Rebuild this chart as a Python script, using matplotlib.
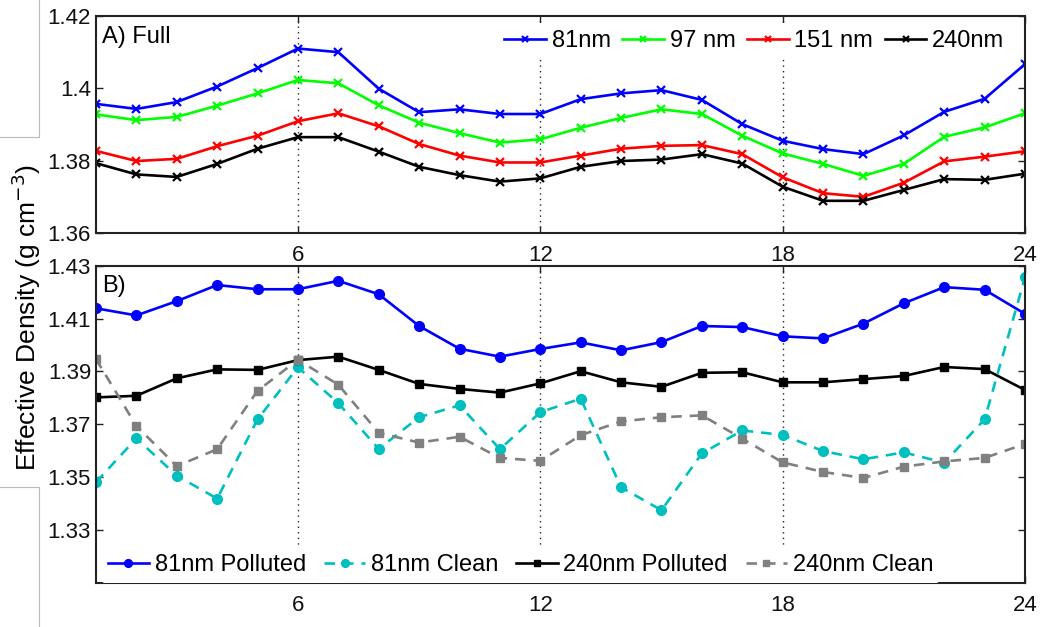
import matplotlib
matplotlib.use("Agg")
import matplotlib.pyplot as plt
from matplotlib.lines import Line2D

plt.rcParams['font.family'] = ['Liberation Sans', 'DejaVu Sans']

hours = list(range(1, 25))

# Panel A: full
full_81 = [1.3957, 1.3943, 1.3962, 1.4005, 1.4056, 1.4110, 1.4100, 1.3999, 1.3934, 1.3942,
           1.3929, 1.3929, 1.3970, 1.3986, 1.3995, 1.3968, 1.3901, 1.3855, 1.3832, 1.3818,
           1.3870, 1.3935, 1.3971, 1.4067]
full_97 = [1.3928, 1.3912, 1.3921, 1.3952, 1.3986, 1.4023, 1.4014, 1.3953, 1.3905, 1.3876,
           1.3850, 1.3859, 1.3891, 1.3918, 1.3942, 1.3929, 1.3869, 1.3820, 1.3791, 1.3758,
           1.3791, 1.3866, 1.3892, 1.3931]
full_151 = [1.3827, 1.3799, 1.3805, 1.3840, 1.3869, 1.3909, 1.3931, 1.3895, 1.3846, 1.3814,
            1.3795, 1.3795, 1.3814, 1.3833, 1.3841, 1.3843, 1.3818, 1.3754, 1.3710, 1.3700,
            1.3739, 1.3798, 1.3811, 1.3826]
full_240 = [1.3793, 1.3762, 1.3755, 1.3791, 1.3833, 1.3865, 1.3865, 1.3825, 1.3783, 1.3760,
            1.3742, 1.3751, 1.3783, 1.3799, 1.3803, 1.3818, 1.3792, 1.3728, 1.3689, 1.3689,
            1.3719, 1.3749, 1.3747, 1.3764]

# Panel B: polluted vs clean
pol_81 = [1.4139, 1.4112, 1.4166, 1.4227, 1.4211, 1.4211, 1.4243, 1.4192, 1.4072, 1.3986,
          1.3956, 1.3985, 1.4010, 1.3980, 1.4011, 1.4072, 1.4068, 1.4033, 1.4025, 1.4081,
          1.4158, 1.4219, 1.4209, 1.4118]
cln_81 = [1.3481, 1.3647, 1.3506, 1.3419, 1.3719, 1.3916, 1.3780, 1.3607, 1.3727, 1.3772,
          1.3606, 1.3746, 1.3797, 1.3462, 1.3375, 1.3590, 1.3677, 1.3660, 1.3599, 1.3568,
          1.3594, 1.3555, 1.3719, 1.4256]
pol_240 = [1.3802, 1.3808, 1.3874, 1.3908, 1.3906, 1.3943, 1.3956, 1.3906, 1.3853, 1.3834,
           1.3820, 1.3855, 1.3901, 1.3859, 1.3842, 1.3895, 1.3897, 1.3859, 1.3859, 1.3871,
           1.3883, 1.3917, 1.3909, 1.3830]
cln_240 = [1.3947, 1.3694, 1.3542, 1.3606, 1.3827, 1.3944, 1.3850, 1.3668, 1.3631, 1.3653,
           1.3573, 1.3562, 1.3659, 1.3711, 1.3727, 1.3734, 1.3646, 1.3556, 1.3520, 1.3497,
           1.3540, 1.3560, 1.3573, 1.3626]

xticks = [6, 12, 18, 24]
xticklabels = ['6', '12', '18', '24']
yticks_a = [1.36, 1.38, 1.40, 1.42]
yticklabels_a = ['1.36', '1.38', '1.4', '1.42']
yticks_b = [1.33, 1.35, 1.37, 1.39, 1.41, 1.43]
yticklabels_b = ['1.33', '1.35', '1.37', '1.39', '1.41', '1.43']

fig = plt.figure(figsize=(10.42, 6.27), dpi=100)
ax1 = fig.add_axes([0.0921, 0.6284, 0.8916, 0.3461])
ax2 = fig.add_axes([0.0921, 0.0702, 0.8916, 0.5060])

TFS = 16   # tick labels
LFS = 17   # legend / panel labels

def style(ax):
    ax.set_xlim(1, 24)
    ax.set_xticks(xticks)
    ax.set_xticklabels(xticklabels)
    ax.tick_params(direction='in', length=5, width=1.0, top=True, right=True,
                   labelsize=TFS, colors='#222222', labelcolor='#111111')
    ax.tick_params(axis='x', pad=9)
    ax.tick_params(axis='y', pad=3.5)
    for s in ax.spines.values():
        s.set_linewidth(1.5)
        s.set_color('#222222')
    for v in [6, 12, 18]:
        ax.axvline(v, color='#222222', linestyle=(0, (1, 3)), linewidth=1.0, zorder=0.5)

leg_kw = dict(frameon=True, framealpha=1, edgecolor='none', facecolor='white',
              handlelength=1.75, handletextpad=0.25, borderpad=0.3,
              markerscale=0.8, fontsize=LFS, ncol=4)

style(ax1)
ax1.set_ylim(1.36, 1.42)
ax1.set_yticks(yticks_a)
ax1.set_yticklabels(yticklabels_a)
lw = 1.9
ax1.plot(hours, full_81, color='#0000ff', marker='x', ms=5.5, mew=1.6, lw=lw, label='81nm')
ax1.plot(hours, full_97, color='#00ff00', marker='x', ms=5.5, mew=1.6, lw=lw, label='97 nm')
ax1.plot(hours, full_151, color='#ff0000', marker='x', ms=5.5, mew=1.6, lw=lw, label='151 nm')
ax1.plot(hours, full_240, color='#000000', marker='x', ms=5.5, mew=1.6, lw=lw, label='240nm')
ax1.text(0.007, 0.955, 'A) Full', transform=ax1.transAxes, fontsize=LFS, va='top', ha='left')
ax1.legend(loc='upper right', bbox_to_anchor=(0.993, 1.0), borderaxespad=0.3,
           columnspacing=0.5, **leg_kw)

style(ax2)
ax2.set_ylim(1.31, 1.43)
ax2.set_yticks(yticks_b)
ax2.set_yticklabels(yticklabels_b)
ax2.plot(hours, pol_81, color='#0000ff', marker='o', ms=7, lw=lw, label='81nm Polluted')
ax2.plot(hours, cln_81, color='#00bfbf', marker='o', ms=7, lw=lw, linestyle=(0, (4, 3)),
         label='81nm Clean')
ax2.plot(hours, pol_240, color='#000000', marker='s', ms=6, lw=lw, label='240nm Polluted')
ax2.plot(hours, cln_240, color='#808080', marker='s', ms=6, lw=lw, linestyle=(0, (4, 3)),
         label='240nm Clean')
ax2.text(0.007, 0.97, 'B)', transform=ax2.transAxes, fontsize=LFS, va='top', ha='left')
ax2.legend(loc='lower center', bbox_to_anchor=(0.457, 0.0), borderaxespad=0.0,
           columnspacing=0.75, **leg_kw)

fig.text(0.025, 0.493, 'Effective Density (g cm$^{-3}$)', rotation=90, fontsize=19,
         va='center', ha='center')

# faint frame artifacts at the left edge
gray = '#bbbbbb'
fig.add_artist(Line2D([39/1042, 39/1042], [1.0, 1 - 137/627], color=gray, lw=0.8))
fig.add_artist(Line2D([0, 39/1042], [1 - 137/627, 1 - 137/627], color=gray, lw=0.8))
fig.add_artist(Line2D([0, 39/1042], [1 - 487/627, 1 - 487/627], color=gray, lw=0.8))
fig.add_artist(Line2D([39/1042, 39/1042], [1 - 487/627, 0.0], color=gray, lw=0.8))

fig.savefig('out.png', dpi=100)
